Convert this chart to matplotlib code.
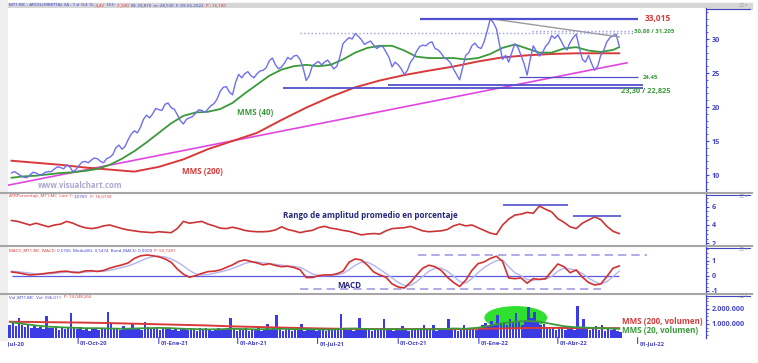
import numpy as np
import pandas as pd
import matplotlib
matplotlib.use('Agg')
import matplotlib.pyplot as plt
import matplotlib.dates as mdates
from matplotlib.patches import Ellipse, Rectangle
from matplotlib.lines import Line2D
from matplotlib.transforms import Bbox
from matplotlib.ticker import MultipleLocator, FuncFormatter

plt.rcParams['font.family'] = ['Open Sans', 'DejaVu Sans']
plt.rcParams['axes.unicode_minus'] = False

W, H = 758, 363

# ---------------- datos ----------------
# cierres de fin de semana
semanas = pd.date_range('2020-07-17', periods=100, freq='7D')
cierre = [10.3, 10.2, 9.7, 10.0, 10.3, 10.1, 10.5, 10.9, 11.1, 11.5,
          10.5, 11.4, 12.0, 12.2, 12.4, 11.8, 12.6, 14.0, 13.8, 15.2,
          16.5, 17.0, 18.8, 19.0, 19.6, 20.4, 19.9, 18.9, 17.5, 18.4,
          19.1, 19.5, 19.7, 20.5, 22.3, 23.0, 21.8, 24.8, 24.9, 24.6,
          24.9, 25.4, 26.8, 26.2, 25.9, 27.3, 27.5, 27.0, 23.9, 26.0,
          26.7, 26.6, 26.3, 26.0, 29.3, 30.2, 30.8, 29.9, 29.5, 29.1,
          28.9, 28.1, 25.9, 26.2, 24.8, 26.6, 28.2, 29.1, 29.4, 28.6,
          27.9, 27.0, 25.6, 24.0, 27.6, 29.0, 28.8, 29.6, 33.0, 31.5,
          27.0, 26.6, 29.3, 27.6, 24.7, 29.0, 27.5, 28.9, 30.5, 30.6,
          28.9, 29.5, 30.7, 27.0, 27.6, 25.4, 27.6, 29.6, 30.5, 29.0]
# cierres de mitad de semana
cierre_mitad = [10.5, 9.9, 9.6, 10.4, 10.0, 10.4, 10.5, 11.2, 10.9, 11.2,
                10.8, 11.9, 11.8, 12.5, 12.0, 12.4, 13.0, 14.4, 14.2, 16.0,
                16.2, 18.2, 18.4, 19.8, 19.5, 20.6, 19.7, 18.0, 18.2, 18.6,
                19.6, 19.2, 20.2, 21.2, 22.9, 22.2, 23.6, 24.3, 25.2, 24.3,
                25.3, 25.8, 27.2, 25.6, 26.5, 27.0, 27.6, 25.8, 24.6, 26.4,
                26.2, 26.9, 25.6, 27.4, 29.8, 30.0, 30.4, 29.2, 29.7, 28.6,
                28.9, 27.3, 26.6, 25.6, 25.4, 27.2, 28.9, 29.0, 29.6, 28.4,
                27.2, 26.5, 24.8, 25.8, 28.0, 29.4, 28.6, 31.2, 32.4, 29.2,
                27.6, 28.0, 28.8, 26.4, 27.0, 28.2, 28.0, 29.4, 30.1, 29.8,
                28.4, 30.2, 28.8, 26.6, 26.4, 26.0, 28.4, 30.2, 30.7]

idx2 = list(range(0, 100, 2)) + [99]
idx4 = list(range(0, 100, 4)) + [99]

mms40 = [9.6, 9.8, 9.9, 10.1, 10.3, 10.4, 10.6, 10.9, 11.5, 12.4,
         13.5, 14.8, 16.2, 17.6, 18.7, 19.2, 19.3, 19.7, 20.6, 22.0,
         23.3, 24.6, 25.5, 26.0, 26.2, 26.0, 26.2, 27.0, 28.0, 28.7,
         29.0, 29.0, 28.3, 27.4, 27.2, 27.2, 27.2, 27.0, 27.2, 27.8,
         28.7, 29.2, 28.6, 28.0, 28.0, 28.6, 28.8, 28.3, 28.1, 28.4, 28.8]
mms200 = [12.1, 11.8, 11.5, 11.1, 10.8, 10.5, 11.2, 12.3, 13.8, 15.0,
          16.2, 18.1, 19.9, 21.5, 22.9, 23.9, 24.7, 25.35, 25.95, 26.7,
          27.3, 27.6, 27.8, 27.9, 27.9, 27.9]

atr_pct = [4.5, 4.4, 4.2, 4.0, 4.2, 4.0, 3.8, 4.0, 4.1, 4.4,
           4.2, 3.9, 3.7, 3.6, 3.7, 3.9, 4.0, 3.8, 3.6, 3.45,
           3.35, 3.25, 3.2, 3.15, 3.25, 3.2, 3.15, 3.6, 4.4, 4.2,
           4.3, 4.4, 4.1, 3.9, 3.65, 3.6, 3.75, 3.6, 3.4, 3.3,
           3.25, 3.25, 3.3, 3.45, 3.8, 3.5, 3.35, 3.15, 3.3, 3.4,
           3.7, 3.85, 3.65, 3.55, 3.4, 3.3, 3.1, 2.9, 3.0, 3.05,
           3.0, 3.35, 3.6, 3.65, 3.7, 3.85, 3.6, 3.35, 3.25, 3.3,
           3.35, 3.5, 3.9, 4.1, 3.9, 4.0, 3.7, 3.4, 3.1, 2.95,
           4.0, 4.65, 5.1, 5.2, 5.4, 5.3, 6.1, 5.75, 5.45, 4.7,
           4.3, 3.8, 3.6, 4.2, 4.55, 4.9, 4.6, 3.85, 3.3, 3.05]

macd = [0.25, 0.2, 0.12, 0.05, 0.08, 0.12, 0.18, 0.22, 0.28, 0.3,
        0.22, 0.2, 0.32, 0.33, 0.28, 0.35, 0.5, 0.62, 0.72, 0.85,
        1.15, 1.32, 1.38, 1.33, 1.26, 1.12, 0.9, 0.45, 0.1, -0.1,
        0.0, 0.15, 0.27, 0.3, 0.38, 0.55, 0.72, 0.95, 1.05, 0.95,
        0.85, 0.72, 0.8, 0.68, 0.6, 0.63, 0.55, 0.4, -0.12, -0.12,
        0.0, 0.05, 0.05, 0.12, 0.3, 0.9, 1.12, 1.05, 0.7, 0.25,
        0.05, -0.1, -0.55, -0.75, -0.82, -0.45, 0.05, 0.5, 0.7, 0.6,
        0.35, -0.1, -0.45, -0.72, -0.3, 0.35, 0.8, 0.92, 1.15, 1.3,
        0.95, -0.15, -0.2, -0.15, -0.5, -0.2, -0.25, -0.2, 0.3, 0.78,
        0.6, 0.2, 0.38, -0.1, -0.45, -0.62, -0.55, -0.05, 0.5, 0.65]
macd_sig = [0.3, 0.27, 0.22, 0.17, 0.12, 0.1, 0.12, 0.15, 0.2, 0.24,
            0.27, 0.25, 0.24, 0.27, 0.3, 0.3, 0.35, 0.45, 0.55, 0.65,
            0.8, 0.98, 1.15, 1.27, 1.3, 1.25, 1.12, 0.92, 0.65, 0.35,
            0.12, 0.05, 0.08, 0.16, 0.25, 0.35, 0.48, 0.64, 0.82, 0.92,
            0.92, 0.85, 0.8, 0.76, 0.7, 0.65, 0.62, 0.56, 0.35, 0.12,
            0.02, 0.0, 0.02, 0.06, 0.15, 0.4, 0.7, 0.9, 0.9, 0.7,
            0.42, 0.15, -0.15, -0.45, -0.65, -0.65, -0.4, -0.05, 0.3, 0.5,
            0.5, 0.3, -0.02, -0.38, -0.5, -0.2, 0.2, 0.55, 0.8, 1.0,
            1.05, 0.6, 0.2, 0.0, -0.25, -0.3, -0.25, -0.22, -0.05, 0.3,
            0.5, 0.45, 0.35, 0.15, -0.15, -0.4, -0.55, -0.4, -0.05, 0.3]

# volumen en millones (aprox. cada 3,5 dias)
vol_fechas = pd.date_range('2020-07-15', periods=200, freq='84h')
volumen = [0.95, 1.05, 0.85, 1.40, 0.90, 0.80, 0.95, 0.75, 0.85, 0.70,
           0.80, 0.65, 1.50, 0.75, 0.70, 0.85, 0.60, 0.70, 0.65, 0.75,
           1.70, 0.70, 0.65, 0.80, 0.60, 0.70, 0.55, 0.65, 0.75, 0.60,
           0.70, 0.65, 1.80, 1.00, 0.70, 0.75, 0.60, 0.85, 0.70, 0.65,
           1.00, 0.70, 0.75, 0.60, 1.10, 0.80, 0.65, 0.70, 0.75, 0.60,
           0.70, 0.65, 0.75, 0.60, 0.70, 0.55, 0.65, 0.70, 0.60, 0.75,
           0.65, 0.55, 0.70, 0.60, 0.75, 0.65, 0.55, 0.60, 0.70, 0.65,
           0.60, 0.75, 1.40, 0.70, 0.55, 0.65, 0.60, 0.70, 0.55, 0.65,
           0.60, 0.70, 0.55, 0.65, 1.00, 0.60, 0.70, 1.60, 0.65, 0.55,
           0.60, 0.70, 0.55, 0.65, 0.60, 1.00, 0.55, 0.65, 0.60, 0.70,
           0.55, 0.60, 0.65, 0.55, 0.70, 0.60, 0.65, 0.75, 1.65, 0.70,
           0.60, 0.65, 0.55, 0.70, 1.40, 0.65, 0.60, 0.70, 0.55, 0.65,
           0.60, 0.70, 1.30, 0.65, 0.60, 0.55, 0.70, 0.60, 0.85, 0.65,
           0.55, 0.60, 0.70, 0.65, 0.60, 0.95, 0.65, 0.60, 0.90, 0.55,
           0.65, 0.60, 0.70, 1.30, 0.60, 0.65, 0.55, 0.70, 0.95, 0.60,
           0.65, 0.70, 0.60, 0.75, 0.90, 1.05, 0.85, 1.20, 0.95, 1.60,
           1.00, 1.15, 0.90, 1.30, 1.05, 1.70, 1.10, 0.95, 1.25, 2.10,
           1.40, 1.80, 1.20, 0.90, 1.00, 0.75, 0.65, 0.70, 0.60, 0.65,
           0.70, 0.60, 0.65, 0.75, 0.60, 2.20, 0.70, 1.30, 0.65, 0.60,
           0.70, 0.85, 0.60, 0.90, 0.55, 0.65, 0.60, 0.70, 0.55, 0.45]
vol_mms20 = [1.12, 1.0, 0.9, 0.82, 0.78, 0.75, 0.72, 0.72, 0.7, 0.68,
             0.7, 0.72, 0.74, 0.72, 0.68, 0.66, 0.64, 0.65, 0.68, 0.66,
             0.64, 0.66, 0.68, 0.65, 0.66, 0.64, 0.62, 0.68, 0.7, 0.66,
             0.64, 0.66, 0.64, 0.66, 0.64, 0.66, 0.7, 0.68, 0.75, 0.9,
             1.05, 1.15, 1.2, 1.15, 1.0, 0.85, 0.78, 0.75, 0.72, 0.7, 0.68]
vol_mms200 = [1.15, 1.13, 1.11, 1.09, 1.06, 1.02, 0.98, 0.94, 0.9, 0.84,
              0.8, 0.76, 0.72, 0.69, 0.67, 0.66, 0.66, 0.66, 0.66, 0.68,
              0.7, 0.73, 0.74, 0.73, 0.72, 0.72]

# lineas de soporte / resistencia
tend_fechas = ['2020-07-13', '2022-06-19']
tend_valores = [8.5, 26.5]
bajista_fechas = ['2022-01-14', '2022-06-10']
bajista_valores = [33.0, 30.3]
niveles = [33.015, 31.205, 30.86, 24.45, 23.30, 22.825]
niv_ini = ['2021-10-26', '2022-03-03', '2021-06-11', '2022-02-16', '2021-09-19', '2021-05-23']
niv_fin = ['2022-07-01', '2022-06-27', '2022-06-27', '2022-07-02', '2022-07-07', '2022-07-07']
atr_niveles = [6.25, 5.0]
atr_ini = ['2022-01-29', '2022-04-18']
atr_fin = ['2022-04-13', '2022-06-12']
macd_bandas = [1.38, -0.86]
macd_ini = ['2021-10-24', '2021-06-11']
macd_fin = ['2022-07-12', '2022-05-20']

trimestres = ['2020-07-01', '2020-10-01', '2021-01-01', '2021-04-01', '2021-07-01',
              '2021-10-01', '2022-01-01', '2022-04-01', '2022-07-01']
etiq_trim = ['01-Jul-20', '01-Oct-20', '01-Ene-21', '01-Abr-21', '01-Jul-21',
             '01-Oct-21', '01-Ene-22', '01-Abr-22', '01-Jul-22']

# ---------------- colores ----------------
AZUL_EJE = '#4646c8'
AZUL_PRECIO = '#6e6ef0'
VERDE = '#3a9a3a'
ROJO = '#d83a3a'
MAGENTA = '#e046e0'
AZUL_NIVEL = '#5050cc'


def fx(x):
    return x / W


def fy(y):
    return 1 - y / H


T = pd.to_datetime

precio = pd.concat([pd.Series(cierre, index=semanas),
                    pd.Series(cierre_mitad, index=semanas[:-1] + pd.Timedelta('3.5D'))]).sort_index()

fig = plt.figure(figsize=(W / 100, H / 100), dpi=100)
fig.patch.set_facecolor('white')

xmin, xmax = T('2020-07-13'), T('2022-09-17')


def panel(y_top, y_bot, ylim):
    ax = fig.add_axes([fx(8), fy(y_bot), 698 / W, (y_bot - y_top) / H])
    ax.set_xlim(xmin, xmax)
    ax.set_ylim(*ylim)
    for s in ['left', 'top', 'bottom']:
        ax.spines[s].set_visible(False)
    ax.spines['right'].set_color(AZUL_EJE)
    ax.spines['right'].set_linewidth(0.9)
    ax.yaxis.tick_right()
    ax.tick_params(axis='y', which='major', colors=AZUL_EJE, labelsize=5.2,
                   length=2.5, width=0.8, pad=1.5)
    ax.tick_params(axis='y', which='minor', colors=AZUL_EJE, length=1.2, width=0.6)
    ax.tick_params(axis='x', which='both', bottom=False, labelbottom=False)
    # esquina superior del eje derecho
    fig.add_artist(Line2D([fx(706), fx(750)], [fy(y_top + 1), fy(y_top + 1)],
                          color=AZUL_EJE, lw=0.8))
    return ax


def negrita(ax):
    for t in ax.get_yticklabels():
        t.set_fontweight('bold')


# ---------------- panel de precios ----------------
ax_p = panel(8, 191, (7.65, 34.56))
ax_p.set_yticks([10, 15, 20, 25, 30])
ax_p.yaxis.set_minor_locator(MultipleLocator(1))
negrita(ax_p)

ax_p.plot(T(tend_fechas), tend_valores, color=MAGENTA, lw=1.2, zorder=2)
ax_p.plot(semanas[idx4], mms200, color=ROJO, lw=1.4, zorder=3)
ax_p.plot(semanas[idx2], mms40, color=VERDE, lw=1.3, zorder=3)
ax_p.plot(precio.index, precio.values, color=AZUL_PRECIO, lw=1.0, zorder=4)
ax_p.plot(T(bajista_fechas), bajista_valores, color='#9a9a9a', lw=1.0, zorder=5)

estilos = [dict(color=AZUL_NIVEL, lw=1.6, ls='-'),
           dict(color='#9c9ce6', lw=1.0, ls=':'),
           dict(color='#9c9ce6', lw=1.0, ls=':'),
           dict(color=AZUL_NIVEL, lw=0.9, ls='-'),
           dict(color=AZUL_NIVEL, lw=1.3, ls='-'),
           dict(color=AZUL_NIVEL, lw=1.3, ls='-')]
for v, a, b, st in zip(niveles, niv_ini, niv_fin, estilos):
    ax_p.hlines(v, T(a), T(b), colors=st['color'], lw=st['lw'], linestyles=st['ls'], zorder=5)

fig.text(fx(645), fy(18), '33,015', color=ROJO, fontsize=6, fontweight='bold', va='center')
fig.text(fx(634), fy(31.5), '30,86 / 31,205', color=VERDE, fontsize=4.3, fontweight='bold', va='center')
fig.text(fx(643), fy(77), '24,45', color=VERDE, fontsize=4.3, fontweight='bold', va='center')
fig.text(fx(621), fy(91), '23,30 / 22,825', color=VERDE, fontsize=5.4, fontweight='bold', va='center')
fig.text(fx(237), fy(112.5), 'MMS (40)', color=VERDE, fontsize=5.8, fontweight='bold', va='center')
fig.text(fx(182), fy(171), 'MMS (200)', color=ROJO, fontsize=5.8, fontweight='bold', va='center')
fig.text(fx(38), fy(186), 'www.visualchart.com', color='#a8a8d0', fontsize=5.6, fontweight='bold', va='center')

# ---------------- panel ATR % ----------------
ax_a = panel(194, 245, (1.78, 7.44))
ax_a.set_yticks([2, 4, 6])
ax_a.yaxis.set_minor_locator(MultipleLocator(0.5))
negrita(ax_a)
ax_a.plot(semanas, atr_pct, color='#cc3434', lw=1.2)
for v, a, b in zip(atr_niveles, atr_ini, atr_fin):
    ax_a.hlines(v, T(a), T(b), colors=AZUL_NIVEL, lw=1.2)
fig.text(fx(283), fy(216), 'Rango de amplitud promedio en porcentaje', color='#25257a',
         fontsize=5.8, fontweight='bold', va='center')

# ---------------- panel MACD ----------------
ax_m = panel(247, 292, (-1.087, 1.913))
ax_m.set_yticks([-1, 0, 1])
ax_m.yaxis.set_minor_locator(MultipleLocator(0.25))
negrita(ax_m)
ax_m.hlines(0, semanas[0], semanas[-1], colors='#5a5ae0', lw=0.9)
for v, a, b in zip(macd_bandas, macd_ini, macd_fin):
    ax_m.hlines(v, T(a), T(b), colors='#a0a0e0', lw=1.2, linestyles=(0, (5, 3)))
ax_m.plot(semanas, macd_sig, color='#b4b4f0', lw=1.0)
ax_m.plot(semanas, macd, color='#d43030', lw=1.2)
fig.text(fx(337), fy(285), 'MACD', color='#25257a', fontsize=5.8, fontweight='bold', va='center')

# ---------------- panel volumen ----------------
ax_v = panel(295, 337.5, (0.1, 2.93))
ax_v.set_yticks([1, 2])
ax_v.yaxis.set_major_formatter(FuncFormatter(lambda v, p: f'{v * 1e6:,.0f}'.replace(',', '.')))
ax_v.yaxis.set_minor_locator(MultipleLocator(0.25))
negrita(ax_v)
ax_v.add_patch(Ellipse((mdates.date2num(T('2022-02-12')), 1.42), width=70, height=1.45,
                       color='#30e030', zorder=1))
ax_v.bar(vol_fechas, volumen, width=2.9, color='#3b3be6', zorder=2)
ax_v.plot(vol_fechas[0:1].append(semanas[idx4][1:]), vol_mms200, color=ROJO, lw=1.4, zorder=3)
ax_v.plot(semanas[idx2], vol_mms20, color=VERDE, lw=1.3, zorder=3)
fig.text(fx(622), fy(321.5), 'MMS (200, volumen)', color=ROJO, fontsize=5.8, fontweight='bold', va='center')
fig.text(fx(622), fy(330.5), 'MMS (20, volumen)', color=VERDE, fontsize=5.8, fontweight='bold', va='center')

# eje de fechas
clip = Bbox([[8, 0], [W, H]])
for d, lab in zip(trimestres, etiq_trim):
    ax_v.annotate('', xy=(T(d), 0), xycoords=('data', 'axes fraction'),
                  xytext=(0, -6), textcoords='offset pixels', annotation_clip=False,
                  arrowprops=dict(arrowstyle='-', color=AZUL_EJE, lw=0.8, shrinkA=0, shrinkB=0))
    t = ax_v.annotate(lab, xy=(T(d), 0), xycoords=('data', 'axes fraction'),
                      xytext=(2, -6), textcoords='offset pixels', annotation_clip=False,
                      ha='left', va='center', fontsize=4.2, fontweight='bold', color=AZUL_EJE)
    t.set_clip_box(clip)
    t.set_clip_on(True)

# ---------------- marcos, separadores y cabeceras ----------------
fig.add_artist(Rectangle((0, fy(340)), fx(7), 340 / H, color='#efefef', zorder=-5))
fig.add_artist(Rectangle((fx(8), fy(8.5)), fx(744), 5.5 / H, color='#d6d6d6', zorder=-4))
for ys in [192.5, 246, 293.5]:
    fig.add_artist(Line2D([0, fx(752)], [fy(ys), fy(ys)], color='#a6a6a6', lw=1.5))
for ys in [5.5, 196.5, 249.5, 296.5]:
    fig.text(fx(737), fy(ys), '_ □ x', color='#8a8a8a', fontsize=3, va='center')

renderer = fig.canvas.get_renderer()


def texto_multicolor(x, y, partes, size=3.2):
    for s, c in partes:
        t = fig.text(fx(x), fy(y), s, color=c, fontsize=size, va='center', ha='left')
        x += t.get_window_extent(renderer=renderer).width


AZ = '#3a3ad0'
RJ = '#e03030'
texto_multicolor(9, 5.5, [('MT1.MC - ARCELORMITTAL SA - 1 d  Dif. %: ', AZ), ('-4,42', RJ),
                          ('  Dif.: ', AZ), ('-1,330', RJ),
                          ('  M: 29,810  m: 28,530  F: 09-06-2022  ', AZ), ('P.: 16,180', RJ)])
texto_multicolor(9, 196.5, [('ATRPorcentaje_MT1.MC  Line 1: ', RJ), ('3,0769', AZ), ('  P: 16,6730', RJ)])
texto_multicolor(9, 250, [('MACD_MT1.MC  MACD: ', RJ), ('0,5706  MediaSIG: 0,5474  Band_MACD: 0,0000', AZ),
                          ('  P: 50,7281', RJ)])
texto_multicolor(9, 297, [('Vol_MT1.MC  Vol: 596.011  ', AZ), ('P: 14.048.266', RJ)])

fig.savefig('out.png', dpi=100)
